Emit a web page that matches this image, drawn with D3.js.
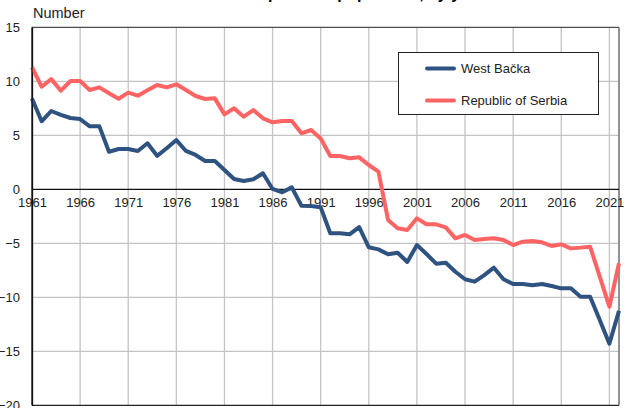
<!DOCTYPE html>
<html><head><meta charset="utf-8">
<script src="https://cdn.jsdelivr.net/npm/d3@7"></script>
<style>body{margin:0;background:#fff}svg{display:block}text{font-family:"Liberation Sans",Arial,sans-serif}</style>
</head><body>
<script>
const years = d3.range(1961, 2023);
const westBacka = [8.4,6.3,7.25,6.9,6.6,6.5,5.83,5.83,3.48,3.73,3.73,3.55,4.26,3.1,3.8,4.56,3.55,3.18,2.62,2.62,1.79,0.95,0.77,0.93,1.48,0.03,-0.28,0.18,-1.52,-1.55,-1.67,-4.07,-4.07,-4.17,-3.5,-5.37,-5.56,-6.02,-5.87,-6.73,-5.16,-5.99,-6.89,-6.8,-7.63,-8.33,-8.55,-7.94,-7.26,-8.33,-8.77,-8.77,-8.89,-8.77,-8.95,-9.17,-9.17,-9.94,-9.94,-12.1,-14.3,-11.24];
const serbia = [11.3,9.5,10.2,9.13,10.03,10.03,9.19,9.44,8.89,8.39,8.95,8.67,9.17,9.66,9.44,9.72,9.19,8.64,8.36,8.42,6.94,7.5,6.72,7.34,6.57,6.2,6.32,6.32,5.18,5.49,4.7,3.08,3.08,2.87,2.96,2.25,1.63,-2.84,-3.61,-3.77,-2.69,-3.24,-3.24,-3.52,-4.54,-4.23,-4.69,-4.6,-4.54,-4.69,-5.16,-4.85,-4.79,-4.91,-5.25,-5.1,-5.47,-5.4,-5.31,-8.09,-10.87,-6.85];
const xTickYears = [1961,1966,1971,1976,1981,1986,1991,1996,2001,2006,2011,2016,2021];
const yTicks = [-20,-15,-10,-5,0,5,10,15];
const seriesNames = ["West Bačka","Republic of Serbia"];
const colors = ["#2f5380","#ff6464"];

const W=633,H=408;
const svg=d3.select("body").append("svg").attr("width",W).attr("height",H);
const x=d3.scaleLinear().domain([1961,2022]).range([32,619]);
const y=d3.scaleLinear().domain([-20,15]).range([405.3,27.3]);

// title (mostly cut off at top, as in the reference)
svg.append("text").attr("x",316).attr("y",-1.5).attr("text-anchor","middle")
  .attr("font-size",16).attr("font-weight","bold")
  .text("Natural increase per 1000 population, by years");

svg.append("text").attr("x",33).attr("y",18).attr("font-size",14.5).attr("fill","#222").text("Number");

// gridlines
const g=svg.append("g");
g.selectAll(".vg").data(xTickYears.slice(1)).join("line")
 .attr("x1",d=>x(d)).attr("x2",d=>x(d)).attr("y1",y(15)).attr("y2",y(-20))
 .attr("stroke","#c4c4c4").attr("stroke-width",1.3);
g.selectAll(".hg").data([10,5,-5,-10,-15]).join("line")
 .attr("x1",x(1961)).attr("x2",x(2022)).attr("y1",d=>y(d)).attr("y2",d=>y(d))
 .attr("stroke","#c4c4c4").attr("stroke-width",1.3);
// borders
g.append("line").attr("x1",x(1961)).attr("x2",x(2022)).attr("y1",y(15)).attr("y2",y(15)).attr("stroke","#222").attr("stroke-width",1);
g.append("line").attr("x1",x(2022)).attr("x2",x(2022)).attr("y1",y(15)).attr("y2",y(-20)).attr("stroke","#777").attr("stroke-width",1.6);
g.append("line").attr("x1",x(1961)).attr("x2",x(2022)).attr("y1",y(-20)).attr("y2",y(-20)).attr("stroke","#222").attr("stroke-width",1.3);
g.append("line").attr("x1",x(1961)).attr("x2",x(2022)).attr("y1",y(0)).attr("y2",y(0)).attr("stroke","#111").attr("stroke-width",1.2);

// y axis
const ya=svg.append("g").attr("transform",`translate(${x(1961)},0)`)
 .call(d3.axisLeft(y).tickValues(yTicks).tickSize(0).tickPadding(12));
ya.select(".domain").attr("stroke","#111").attr("stroke-width",1.3);
ya.selectAll("text").attr("font-size",13).attr("fill","#222").attr("font-family","Liberation Sans, Arial, sans-serif");

// x axis labels at zero line
const xa=svg.append("g").attr("transform",`translate(0,${y(0)})`)
 .call(d3.axisBottom(x).tickValues(xTickYears).tickFormat(d3.format("d")).tickSize(0).tickPadding(8));
xa.select(".domain").remove();
xa.selectAll("text").attr("font-size",13).attr("fill","#222").attr("font-family","Liberation Sans, Arial, sans-serif");

// lines
const line=d3.line().x((d,i)=>x(years[i])).y(d=>y(d));
[westBacka,serbia].forEach((s,k)=>{
  svg.append("path").datum(s).attr("d",line).attr("fill","none")
   .attr("stroke",colors[k]).attr("stroke-width",4).attr("stroke-linejoin","round");
});
// redraw left axis on top
svg.append("line").attr("x1",x(1961)).attr("x2",x(1961)).attr("y1",y(15)).attr("y2",y(-20)).attr("stroke","#111").attr("stroke-width",1.3);

// legend
const lg=svg.append("g");
lg.append("rect").attr("x",398.5).attr("y",52.5).attr("width",200).attr("height",62)
 .attr("fill","#fff").attr("stroke","#222").attr("stroke-width",1);
seriesNames.forEach((n,i)=>{
  const yy=68.5+i*32;
  lg.append("line").attr("x1",427).attr("x2",454).attr("y1",yy).attr("y2",yy)
   .attr("stroke",colors[i]).attr("stroke-width",4).attr("stroke-linecap","round");
  lg.append("text").attr("x",461).attr("y",yy+4.5).attr("font-size",13).attr("fill","#222").text(n);
});
</script>
</body></html>
